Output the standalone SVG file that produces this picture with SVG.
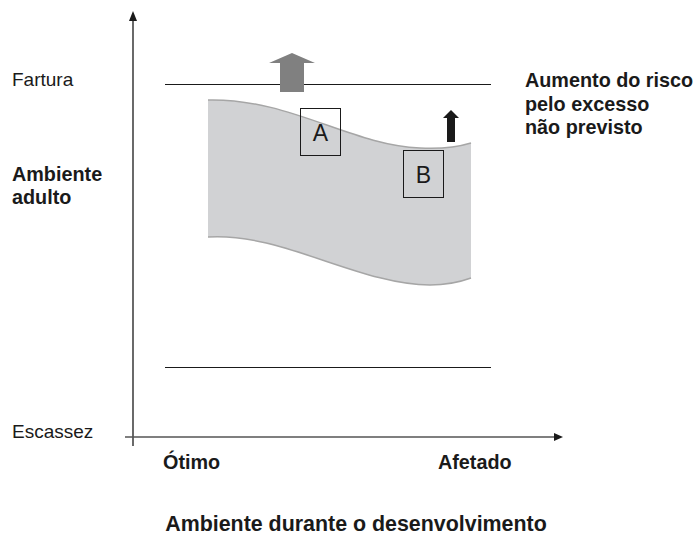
<svg xmlns="http://www.w3.org/2000/svg" width="695" height="537" viewBox="0 0 695 537">
<style>
text{font-family:"Liberation Sans",Arial,sans-serif;font-size:19px;fill:#1a1a1a}
.b{font-weight:bold;font-size:19.8px}
.t{font-weight:bold;font-size:21.4px}
.ax{stroke:#1a1a1a;stroke-width:1.3;fill:none}
.ln{stroke:#1a1a1a;stroke-width:1;fill:none}
.box{fill:none;stroke:#1a1a1a;stroke-width:1}
.lbl{font-size:23px;text-anchor:middle}
</style>
<rect width="695" height="537" fill="#fff"/>
<g id="band">
<path d="M208,100 C290,98 350,145 420,148 C440,149 458,147 471,143 L471,278 C460,282 448,285 430,285 C360,285 280,232 208,237 Z" fill="#d1d2d4"/>
<path d="M208,100 C290,98 350,145 420,148 C440,149 458,147 471,143" fill="none" stroke="#a6a6a6" stroke-width="1.5"/>
<path d="M208,237 C280,232 360,285 430,285 C448,285 460,282 471,278" fill="none" stroke="#a6a6a6" stroke-width="1.5"/>
</g>
<g id="connectors">
<path class="ax" d="M133,20 V446"/>
<path d="M133,11 L129,21 L137,21 Z" fill="#1a1a1a"/>
<path d="M125,437 H555" stroke="#555" stroke-width="1.3" fill="none"/>
<path d="M563,437 L554,433 L554,441 Z" fill="#1a1a1a"/>
<path class="ln" d="M165,84.5 H491"/>
<path class="ln" d="M165,367.5 H491"/>
</g>
<g id="arrow-gray">
<path d="M292,53 L315,63 L304,63 L304,92 L280,92 L280,63 L269,63 Z" fill="#808080"/>
</g>
<g id="arrow-black">
<path d="M451,110 L459,118 L455,118 L455,142 L447,142 L447,118 L443,118 Z" fill="#1a1a1a"/>
</g>
<g id="node-A">
<rect class="box" x="300.5" y="108.5" width="40" height="47"/>
<text class="lbl" x="320.5" y="141">A</text>
</g>
<g id="node-B">
<rect class="box" x="403.5" y="150.5" width="40" height="47"/>
<text class="lbl" x="423.5" y="183">B</text>
</g>
<g id="labels">
<text x="12" y="86">Fartura</text>
<text class="b" x="12" y="181">Ambiente</text>
<text class="b" x="12" y="204">adulto</text>
<text x="12" y="438">Escassez</text>
<text class="b" x="525" y="87">Aumento do risco</text>
<text class="b" x="525" y="111">pelo excesso</text>
<text class="b" x="525" y="134">não previsto</text>
<text class="b" x="163" y="469">Ótimo</text>
<text class="b" x="438" y="469">Afetado</text>
<text class="t" x="356" y="531" text-anchor="middle">Ambiente durante o desenvolvimento</text>
</g>
</svg>
